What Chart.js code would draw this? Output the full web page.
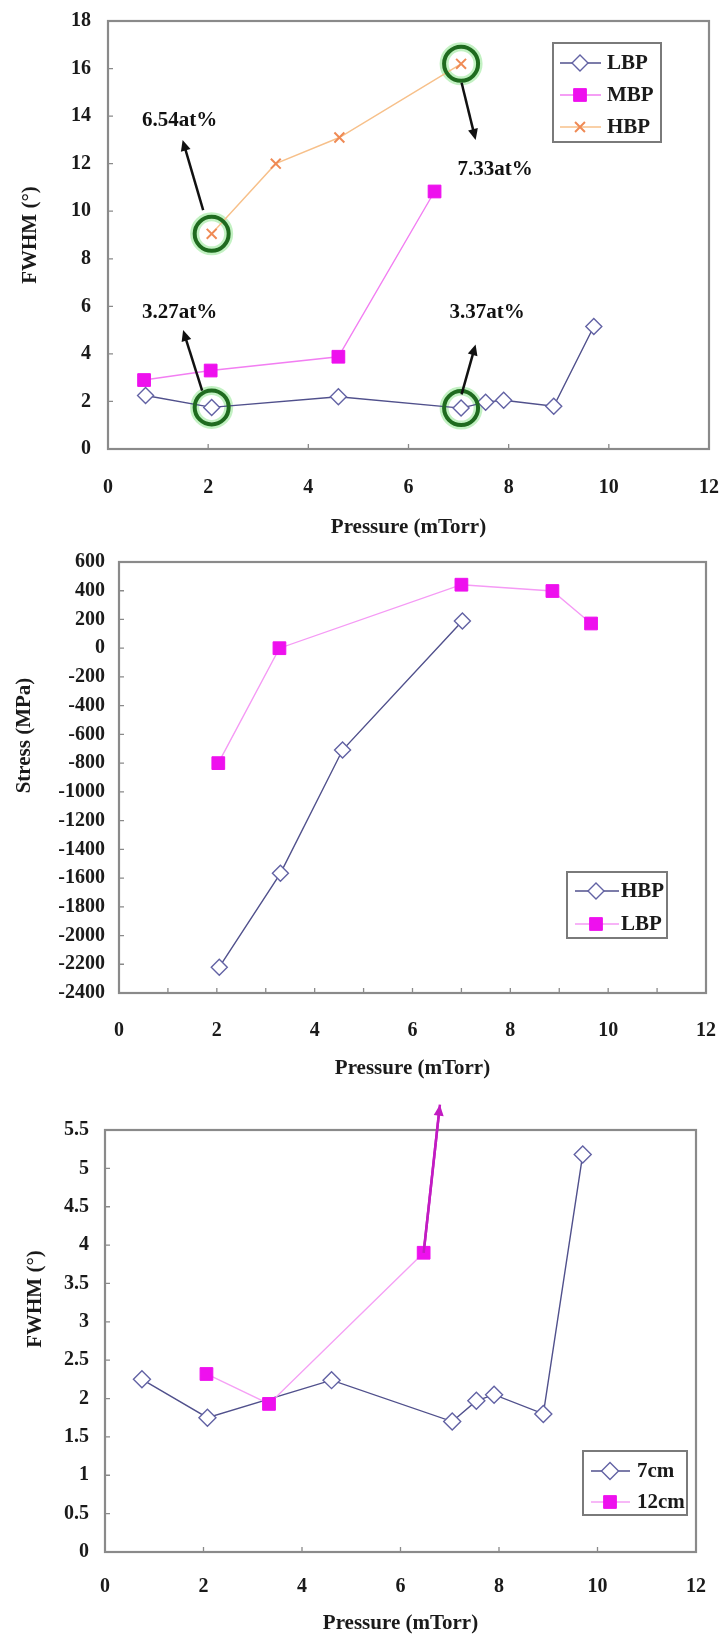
<!DOCTYPE html>
<html>
<head>
<meta charset="utf-8">
<script src="https://cdn.jsdelivr.net/npm/chart.js@4.4.1/dist/chart.umd.min.js"></script>
<style>
  html, body { margin: 0; padding: 0; background: #fff; }
  #page { position: relative; width: 724px; height: 1637px; background: #fff; }
  canvas { position: absolute; left: 0; }
</style>
</head>
<body>
<div id="page">
  <canvas id="fwhmChart" width="724" height="545" style="top:0px"></canvas>
  <canvas id="stressChart" width="724" height="541" style="top:545px"></canvas>
  <canvas id="distChart" width="724" height="551" style="top:1086px"></canvas>
</div>
<script>
// tick labels
const pressureTicks = [0, 2, 4, 6, 8, 10, 12];
const fwhmTicks = [0, 2, 4, 6, 8, 10, 12, 14, 16, 18];
const stressTicks = [-2400, -2200, -2000, -1800, -1600, -1400, -1200, -1000, -800, -600, -400, -200, 0, 200, 400, 600];
const fwhmDistTicks = [0, 0.5, 1, 1.5, 2, 2.5, 3, 3.5, 4, 4.5, 5, 5.5];

// chart 1: FWHM vs pressure for three bias powers
const lbpP = [0.75, 2.07, 4.6, 7.05, 7.54, 7.9, 8.9, 9.7];
const lbpFwhm = [2.25, 1.75, 2.2, 1.72, 1.97, 2.05, 1.8, 5.15];
const mbpP = [0.72, 2.05, 4.6, 6.52];
const mbpFwhm = [2.9, 3.3, 3.88, 10.83];
const hbpP = [2.07, 3.35, 4.62, 7.05];
const hbpFwhm = [9.05, 12.0, 13.1, 16.2];

// circled points: [series, index]
const circled = [['HBP', 0], ['HBP', 3], ['LBP', 1], ['LBP', 3]];
// composition notes
const noteText = ['6.54at%', '7.33at%', '3.27at%', '3.37at%'];
const noteX = [1.43, 7.73, 1.43, 7.57];
const noteY = [13.8, 11.75, 5.72, 5.72];
const arrowFrom = [[1.9, 10.05], [7.06, 15.4], [1.88, 2.45], [7.06, 2.3]];
const arrowTo = [[1.49, 13.0], [7.34, 13.0], [1.5, 5.0], [7.34, 4.4]];

// chart 2: stress vs pressure
const stressHbpP = [2.05, 3.3, 4.57, 7.02];
const stressHbp = [-2220, -1567, -709, 190];
const stressLbpP = [2.03, 3.28, 7.0, 8.86, 9.65];
const stressLbp = [-800, 0, 442, 398, 172];

// chart 3: FWHM vs pressure for two distances
const cm7P = [0.75, 2.08, 4.6, 7.05, 7.54, 7.9, 8.9, 9.7];
const cm7Fwhm = [2.25, 1.75, 2.24, 1.7, 1.97, 2.05, 1.8, 5.18];
const cm12P = [2.06, 3.33, 6.47];
const cm12Fwhm = [2.32, 1.93, 3.9];
const cm12ArrowP = [6.47, 6.8];
const cm12ArrowFwhm = [3.9, 5.83];

const pts = (xs, ys) => xs.map((x, i) => ({ x: x, y: ys[i] }));

const FONT = "'Liberation Serif', 'DejaVu Serif', serif";
const tickFont = { family: FONT, size: 20, weight: 'bold' };
const titleFont = { family: FONT, size: 21, weight: 'bold' };
const INK = '#1a1a1a';
const NAVY = '#50508c';
const MAGENTA = '#ee10ee';

function xAxis(height, pad, titleBottom) {
    return {
        type: 'linear', min: 0, max: 12,
        afterBuildTicks: s => { s.ticks = pressureTicks.map(v => ({ value: v })); },
        // fixed box; no extra side padding for the end labels
        afterFit: s => { s.height = height; s.paddingLeft = 0; s.paddingRight = 0; },
        grid: { display: false, drawTicks: false },
        border: { display: false },
        ticks: { color: INK, font: tickFont, padding: pad, maxRotation: 0, autoSkip: false, callback: v => String(v) },
        title: { display: true, text: 'Pressure (mTorr)', color: INK, font: titleFont, padding: { top: 0, bottom: titleBottom } },
    };
}

function yAxis(min, max, ticks, width, pad, text, titleTop) {
    return {
        type: 'linear', min: min, max: max,
        afterBuildTicks: s => { s.ticks = ticks.map(v => ({ value: v })); },
        afterFit: s => { s.width = width; s.paddingTop = 0; s.paddingBottom = 0; },
        grid: { display: false, drawTicks: false },
        border: { display: false },
        ticks: { color: INK, font: tickFont, padding: pad, autoSkip: false, callback: v => String(v) },
        title: { display: true, text: text, color: INK, font: titleFont, padding: { top: titleTop, bottom: 0 } },
    };
}

function drawArrow(ctx, x1, y1, x2, y2, hl, hw) {
    const ang = Math.atan2(y2 - y1, x2 - x1);
    const c = Math.cos(ang), s = Math.sin(ang);
    ctx.beginPath();
    ctx.moveTo(x1, y1);
    ctx.lineTo(x2 - c * hl * 0.8, y2 - s * hl * 0.8);
    ctx.stroke();
    ctx.beginPath();
    ctx.moveTo(x2, y2);
    ctx.lineTo(x2 - c * hl - s * hw, y2 - s * hl + c * hw);
    ctx.lineTo(x2 - c * hl + s * hw, y2 - s * hl - c * hw);
    ctx.closePath();
    ctx.fill();
}

// plot frame with small inner tick marks
const framePlugin = {
    id: 'frame',
    beforeDatasetsDraw(chart, args, opts) {
        const { ctx, chartArea: a, scales } = chart;
        ctx.save();
        ctx.strokeStyle = '#8a8a8a';
        ctx.lineWidth = 2.2;
        ctx.strokeRect(a.left, a.top, a.right - a.left, a.bottom - a.top);
        ctx.lineWidth = 1.3;
        ctx.beginPath();
        scales.y.ticks.forEach(t => {
            const y = scales.y.getPixelForValue(t.value);
            ctx.moveTo(a.left, y);
            ctx.lineTo(a.left + 5, y);
        });
        const xs = scales.x.ticks.map(t => t.value).concat(opts.minorX || []);
        xs.forEach(v => {
            const x = scales.x.getPixelForValue(v);
            ctx.moveTo(x, a.bottom);
            ctx.lineTo(x, a.bottom - 5);
        });
        ctx.stroke();
        ctx.restore();
    },
};

// arrowhead at the end of datasets flagged arrowEnd
const arrowEnd = {
    id: 'arrowEnd',
    afterDatasetsDraw(chart) {
        const { ctx } = chart;
        chart.data.datasets.forEach((ds, i) => {
            if (!ds.arrowEnd) return;
            const el = chart.getDatasetMeta(i).data;
            const p = el[el.length - 2], q = el[el.length - 1];
            ctx.save();
            ctx.strokeStyle = ds.borderColor;
            ctx.fillStyle = ds.borderColor;
            ctx.lineWidth = ds.borderWidth;
            drawArrow(ctx, p.x, p.y, q.x, q.y, 11, 5);
            ctx.restore();
        });
    },
};

// boxed legend inside the plot area
const boxLegend = {
    id: 'boxLegend',
    afterDatasetsDraw(chart, args, o) {
        if (!o.items) return;
        const { ctx, chartArea: a } = chart;
        const x0 = a.right - o.right - o.width;
        const y0 = o.top != null ? a.top + o.top : a.bottom - o.bottom - o.height;
        ctx.save();
        ctx.fillStyle = '#fff';
        ctx.fillRect(x0, y0, o.width, o.height);
        ctx.strokeStyle = '#7a7a7a';
        ctx.lineWidth = 2;
        ctx.strokeRect(x0, y0, o.width, o.height);
        o.items.forEach((idx, i) => {
            const ds = chart.data.datasets[idx];
            const cy = y0 + o.first + i * o.gap;
            ctx.strokeStyle = ds.borderColor;
            ctx.lineWidth = ds.borderWidth;
            ctx.beginPath();
            ctx.moveTo(x0 + o.lineStart, cy);
            ctx.lineTo(x0 + o.lineEnd, cy);
            ctx.stroke();
            ctx.fillStyle = ds.pointBackgroundColor;
            ctx.strokeStyle = ds.pointBorderColor;
            ctx.lineWidth = ds.pointBorderWidth;
            Chart.helpers.drawPoint(ctx, {
                pointStyle: ds.pointStyle, radius: ds.pointRadius, rotation: 0, borderWidth: ds.pointBorderWidth,
            }, x0 + o.marker, cy);
            ctx.fillStyle = INK;
            ctx.font = 'bold 21px ' + FONT;
            ctx.textBaseline = 'middle';
            ctx.textAlign = 'left';
            ctx.fillText(ds.label, x0 + o.textX, cy + 1);
        });
        ctx.restore();
    },
};

// arrows and composition labels for chart 1
const notesPlugin = {
    id: 'notes',
    afterDatasetsDraw(chart) {
        const { ctx, scales: { x, y } } = chart;
        ctx.save();
        ctx.strokeStyle = '#111';
        ctx.fillStyle = '#111';
        ctx.lineWidth = 2.5;
        noteText.forEach((t, i) => {
            drawArrow(ctx,
                x.getPixelForValue(arrowFrom[i][0]), y.getPixelForValue(arrowFrom[i][1]),
                x.getPixelForValue(arrowTo[i][0]), y.getPixelForValue(arrowTo[i][1]), 11, 5);
            ctx.font = 'bold 21px ' + FONT;
            ctx.textAlign = 'center';
            ctx.textBaseline = 'middle';
            ctx.fillText(t, x.getPixelForValue(noteX[i]), y.getPixelForValue(noteY[i]));
        });
        ctx.restore();
    },
};

function baseOptions(padding, scales, plugins) {
    return {
        responsive: false,
        animation: false,
        events: [],
        layout: { padding: padding, autoPadding: false },
        scales: scales,
        plugins: Object.assign({ legend: { display: false }, tooltip: { enabled: false } }, plugins),
    };
}

function lineSet(label, data, line, pointStyle, radius, border, fill, width, order) {
    return {
        label: label, data: data, showLine: true,
        borderColor: line, borderWidth: 1.4,
        pointStyle: pointStyle, pointRadius: radius,
        pointBorderColor: border, pointBackgroundColor: fill, pointBorderWidth: width,
        order: order,
    };
}

// ---- chart 1 ----
const series1 = { LBP: pts(lbpP, lbpFwhm), MBP: pts(mbpP, mbpFwhm), HBP: pts(hbpP, hbpFwhm) };
const circlePts = circled.map(([s, i]) => series1[s][i]);

new Chart(document.getElementById('fwhmChart'), {
    type: 'scatter',
    data: {
        datasets: [
            lineSet('LBP', series1.LBP, NAVY, 'rectRot', 8, '#6262a4', '#ffffff', 1.4, 2),
            lineSet('MBP', series1.MBP, '#f27ef2', 'rect', 9, MAGENTA, MAGENTA, 1, 2),
            lineSet('HBP', series1.HBP, '#f7c08a', 'crossRot', 7, '#ef8a55', '#ef8a55', 2, 2),
            { label: 'glow', data: circlePts, showLine: false, pointRadius: 17, pointBorderWidth: 9,
              pointBorderColor: 'rgba(120,225,120,0.45)', pointBackgroundColor: 'rgba(0,0,0,0)', order: 3 },
            { label: 'ring', data: circlePts, showLine: false, pointRadius: 17, pointBorderWidth: 4,
              pointBorderColor: '#1f6b1f', pointBackgroundColor: 'rgba(0,0,0,0)', order: 1 },
        ],
    },
    options: baseOptions({ top: 21, right: 15, left: 0, bottom: 0 }, {
        x: xAxis(96, 27, 5),
        y: yAxis(0, 18, fwhmTicks, 108, 17, 'FWHM (°)', 18),
    }, {
        boxLegend: { items: [0, 1, 2], right: 48, top: 22, width: 108, height: 99, first: 20, gap: 32,
                     lineStart: 7, lineEnd: 48, marker: 27, textX: 54 },
    }),
    plugins: [framePlugin, boxLegend, notesPlugin],
});

// ---- chart 2 ----
new Chart(document.getElementById('stressChart'), {
    type: 'scatter',
    data: {
        datasets: [
            lineSet('HBP', pts(stressHbpP, stressHbp), NAVY, 'rectRot', 8, '#6262a4', '#ffffff', 1.4, 1),
            lineSet('LBP', pts(stressLbpP, stressLbp), '#f59af5', 'rect', 9, MAGENTA, MAGENTA, 1, 1),
        ],
    },
    options: baseOptions({ top: 17, right: 18, left: 0, bottom: 0 }, {
        x: xAxis(93, 26, 5),
        y: yAxis(-2400, 600, stressTicks, 119, 14, ' '.repeat(16) + 'Stress (MPa)', 12),
    }, {
        frame: { minorX: [1, 3, 5, 7, 9, 11] },
        boxLegend: { items: [0, 1], right: 39, bottom: 55, width: 100, height: 66, first: 19, gap: 33,
                     lineStart: 8, lineEnd: 52, marker: 29, textX: 54 },
    }),
    plugins: [framePlugin, boxLegend],
});

// ---- chart 3 ----
new Chart(document.getElementById('distChart'), {
    type: 'scatter',
    data: {
        datasets: [
            lineSet('7cm', pts(cm7P, cm7Fwhm), NAVY, 'rectRot', 8.5, '#6262a4', '#ffffff', 1.4, 2),
            lineSet('12cm', pts(cm12P, cm12Fwhm), '#f5a0f5', 'rect', 9, MAGENTA, MAGENTA, 1, 1),
            { label: 'off-scale', data: pts(cm12ArrowP, cm12ArrowFwhm), showLine: true, clip: false,
              borderColor: '#c21cc2', borderWidth: 2.5, pointRadius: 0, arrowEnd: true, order: 3 },
        ],
    },
    options: baseOptions({ top: 44, right: 28, left: 0, bottom: 0 }, {
        x: xAxis(85, 23, 1),
        y: yAxis(0, 5.5, fwhmDistTicks, 105, 16, ' '.repeat(16) + 'FWHM (°)', 23),
    }, {
        boxLegend: { items: [0, 1], right: 9, bottom: 37, width: 104, height: 64, first: 20, gap: 31,
                     lineStart: 8, lineEnd: 47, marker: 27, textX: 54 },
    }),
    plugins: [framePlugin, boxLegend, arrowEnd],
});
</script>
</body>
</html>
